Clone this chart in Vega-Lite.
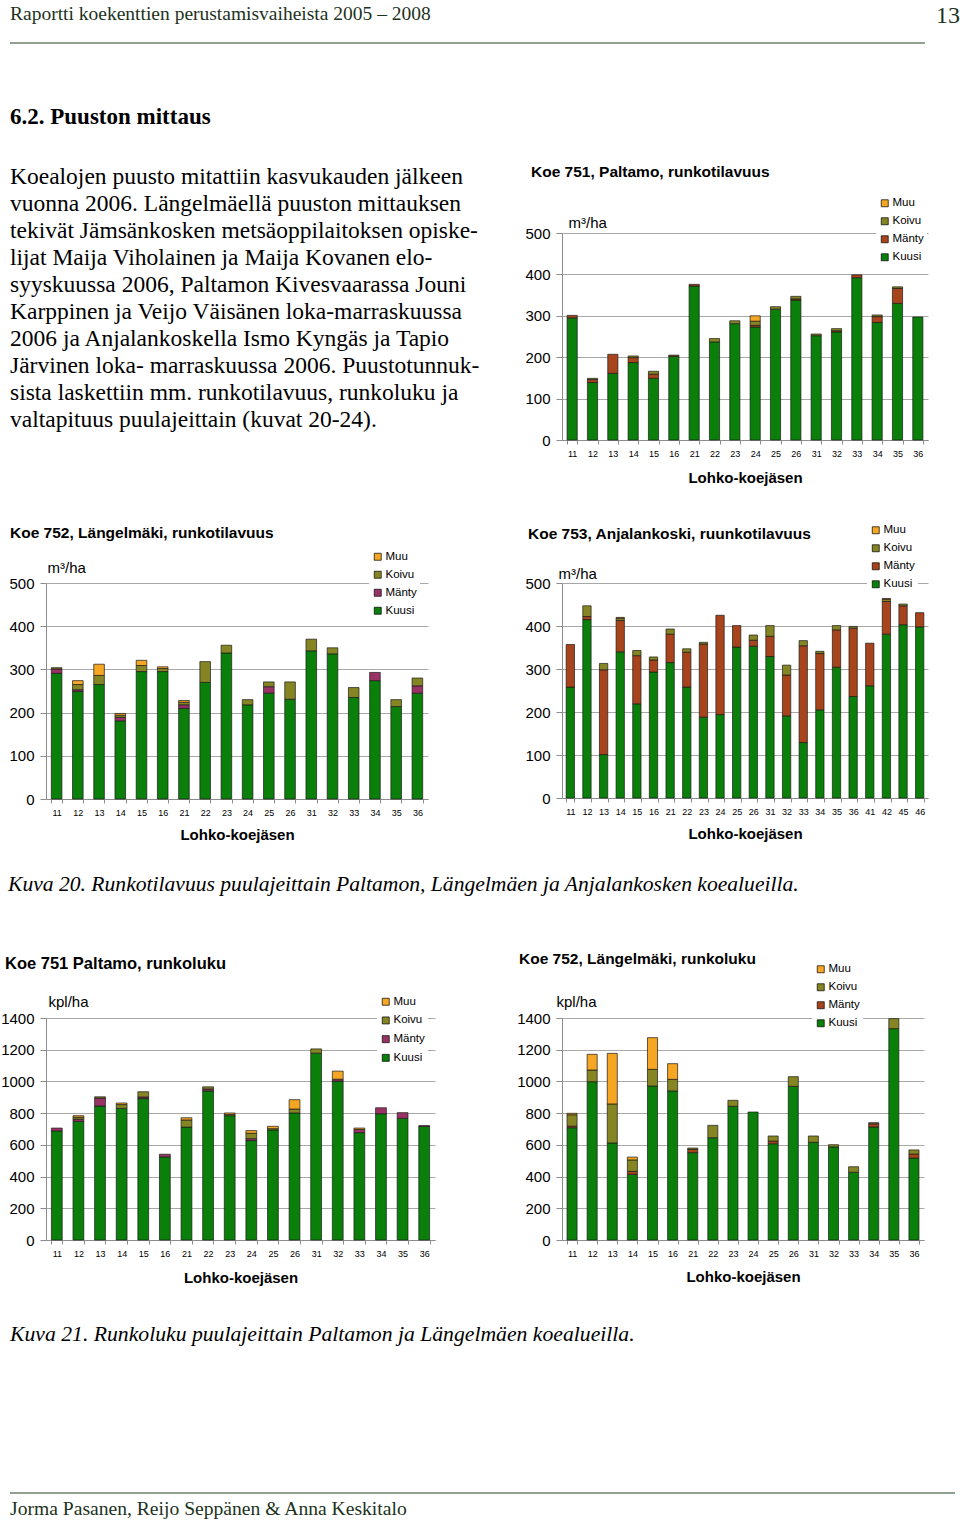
{
  "$schema": "https://vega.github.io/schema/vega-lite/v6.json",
  "padding": 0,
  "background": "white",
  "columns": 4,
  "align": "each",
  "bounds": "flush",
  "spacing": {"row": 0, "column": 0},
  "resolve": {"scale": {"color": "independent"}, "legend": {"color": "independent"}},
  "config": {
    "view": {"stroke": null},
    "font": "Liberation Sans",
    "axis": {"labelFont": "Liberation Sans", "titleFont": "Liberation Sans", "labelColor": "black", "titleColor": "black", "domainColor": "#8c8c8c", "tickColor": "#8c8c8c", "gridColor": "#a8a8a8"},
    "legend": {"labelFont": "Liberation Sans", "labelColor": "black", "labelOffset": 2},
    "title": {"font": "Liberation Sans", "color": "black"}
  },
  "datasets": {
    "lajit": [
      {"laji": "Kuusi", "jarjestys": 1},
      {"laji": "Mänty", "jarjestys": 2},
      {"laji": "Koivu", "jarjestys": 3},
      {"laji": "Muu", "jarjestys": 4}
    ],
    "k751_tilavuus": [
      {"lohko": "11", "Kuusi": 295, "Mänty": 6, "Koivu": 0, "Muu": 0},
      {"lohko": "12", "Kuusi": 139, "Mänty": 7, "Koivu": 3, "Muu": 0},
      {"lohko": "13", "Kuusi": 161, "Mänty": 46, "Koivu": 0, "Muu": 0},
      {"lohko": "14", "Kuusi": 187, "Mänty": 12, "Koivu": 4, "Muu": 0},
      {"lohko": "15", "Kuusi": 149, "Mänty": 10, "Koivu": 7, "Muu": 0},
      {"lohko": "16", "Kuusi": 202, "Mänty": 3, "Koivu": 0, "Muu": 0},
      {"lohko": "21", "Kuusi": 372, "Mänty": 4, "Koivu": 0, "Muu": 0},
      {"lohko": "22", "Kuusi": 237, "Mänty": 0, "Koivu": 8, "Muu": 0},
      {"lohko": "23", "Kuusi": 281, "Mänty": 0, "Koivu": 7, "Muu": 0},
      {"lohko": "24", "Kuusi": 273, "Mänty": 4, "Koivu": 10, "Muu": 13},
      {"lohko": "25", "Kuusi": 316, "Mänty": 0, "Koivu": 6, "Muu": 0},
      {"lohko": "26", "Kuusi": 338, "Mänty": 3, "Koivu": 6, "Muu": 0},
      {"lohko": "31", "Kuusi": 252, "Mänty": 0, "Koivu": 4, "Muu": 0},
      {"lohko": "32", "Kuusi": 261, "Mänty": 3, "Koivu": 5, "Muu": 0},
      {"lohko": "33", "Kuusi": 392, "Mänty": 7, "Koivu": 0, "Muu": 0},
      {"lohko": "34", "Kuusi": 284, "Mänty": 14, "Koivu": 4, "Muu": 0},
      {"lohko": "35", "Kuusi": 330, "Mänty": 36, "Koivu": 4, "Muu": 0},
      {"lohko": "36", "Kuusi": 297, "Mänty": 0, "Koivu": 0, "Muu": 0}
    ],
    "k752_tilavuus": [
      {"lohko": "11", "Kuusi": 291, "Mänty": 10, "Koivu": 3, "Muu": 0},
      {"lohko": "12", "Kuusi": 249, "Mänty": 4, "Koivu": 12, "Muu": 9},
      {"lohko": "13", "Kuusi": 265, "Mänty": 0, "Koivu": 21, "Muu": 26},
      {"lohko": "14", "Kuusi": 181, "Mänty": 8, "Koivu": 5, "Muu": 4},
      {"lohko": "15", "Kuusi": 295, "Mänty": 0, "Koivu": 14, "Muu": 12},
      {"lohko": "16", "Kuusi": 295, "Mänty": 0, "Koivu": 7, "Muu": 4},
      {"lohko": "21", "Kuusi": 210, "Mänty": 8, "Koivu": 6, "Muu": 4},
      {"lohko": "22", "Kuusi": 270, "Mänty": 0, "Koivu": 48, "Muu": 0},
      {"lohko": "23", "Kuusi": 338, "Mänty": 0, "Koivu": 18, "Muu": 0},
      {"lohko": "24", "Kuusi": 218, "Mänty": 0, "Koivu": 12, "Muu": 0},
      {"lohko": "25", "Kuusi": 245, "Mänty": 15, "Koivu": 11, "Muu": 0},
      {"lohko": "26", "Kuusi": 231, "Mänty": 0, "Koivu": 40, "Muu": 0},
      {"lohko": "31", "Kuusi": 343, "Mänty": 0, "Koivu": 27, "Muu": 0},
      {"lohko": "32", "Kuusi": 336, "Mänty": 0, "Koivu": 14, "Muu": 0},
      {"lohko": "33", "Kuusi": 235, "Mänty": 0, "Koivu": 23, "Muu": 0},
      {"lohko": "34", "Kuusi": 274, "Mänty": 19, "Koivu": 0, "Muu": 0},
      {"lohko": "35", "Kuusi": 214, "Mänty": 0, "Koivu": 16, "Muu": 0},
      {"lohko": "36", "Kuusi": 245, "Mänty": 17, "Koivu": 18, "Muu": 0}
    ],
    "k753_tilavuus": [
      {"lohko": "11", "Kuusi": 258, "Mänty": 99, "Koivu": 0, "Muu": 0},
      {"lohko": "12", "Kuusi": 415, "Mänty": 7, "Koivu": 25, "Muu": 0},
      {"lohko": "13", "Kuusi": 101, "Mänty": 197, "Koivu": 15, "Muu": 0},
      {"lohko": "14", "Kuusi": 340, "Mänty": 73, "Koivu": 5, "Muu": 2},
      {"lohko": "15", "Kuusi": 219, "Mänty": 112, "Koivu": 12, "Muu": 0},
      {"lohko": "16", "Kuusi": 293, "Mänty": 28, "Koivu": 7, "Muu": 0},
      {"lohko": "21", "Kuusi": 315, "Mänty": 66, "Koivu": 12, "Muu": 0},
      {"lohko": "22", "Kuusi": 258, "Mänty": 81, "Koivu": 8, "Muu": 0},
      {"lohko": "23", "Kuusi": 188, "Mänty": 170, "Koivu": 4, "Muu": 0},
      {"lohko": "24", "Kuusi": 194, "Mänty": 231, "Koivu": 0, "Muu": 0},
      {"lohko": "25", "Kuusi": 351, "Mänty": 50, "Koivu": 0, "Muu": 0},
      {"lohko": "26", "Kuusi": 353, "Mänty": 14, "Koivu": 12, "Muu": 0},
      {"lohko": "31", "Kuusi": 329, "Mänty": 47, "Koivu": 25, "Muu": 0},
      {"lohko": "32", "Kuusi": 191, "Mänty": 95, "Koivu": 23, "Muu": 0},
      {"lohko": "33", "Kuusi": 129, "Mänty": 225, "Koivu": 12, "Muu": 0},
      {"lohko": "34", "Kuusi": 205, "Mänty": 131, "Koivu": 5, "Muu": 0},
      {"lohko": "35", "Kuusi": 304, "Mänty": 87, "Koivu": 10, "Muu": 0},
      {"lohko": "36", "Kuusi": 236, "Mänty": 159, "Koivu": 4, "Muu": 0},
      {"lohko": "41", "Kuusi": 261, "Mänty": 99, "Koivu": 0, "Muu": 0},
      {"lohko": "42", "Kuusi": 381, "Mänty": 76, "Koivu": 5, "Muu": 2},
      {"lohko": "45", "Kuusi": 403, "Mänty": 44, "Koivu": 4, "Muu": 0},
      {"lohko": "46", "Kuusi": 398, "Mänty": 33, "Koivu": 0, "Muu": 0}
    ],
    "k751_runkoluku": [
      {"lohko": "11", "Kuusi": 688, "Mänty": 18, "Koivu": 0, "Muu": 0},
      {"lohko": "12", "Kuusi": 748, "Mänty": 14, "Koivu": 12, "Muu": 10},
      {"lohko": "13", "Kuusi": 845, "Mänty": 50, "Koivu": 8, "Muu": 0},
      {"lohko": "14", "Kuusi": 830, "Mänty": 0, "Koivu": 24, "Muu": 10},
      {"lohko": "15", "Kuusi": 892, "Mänty": 10, "Koivu": 33, "Muu": 0},
      {"lohko": "16", "Kuusi": 524, "Mänty": 17, "Koivu": 0, "Muu": 0},
      {"lohko": "21", "Kuusi": 712, "Mänty": 0, "Koivu": 45, "Muu": 14},
      {"lohko": "22", "Kuusi": 940, "Mänty": 12, "Koivu": 14, "Muu": 0},
      {"lohko": "23", "Kuusi": 784, "Mänty": 0, "Koivu": 8, "Muu": 9},
      {"lohko": "24", "Kuusi": 627, "Mänty": 12, "Koivu": 34, "Muu": 17},
      {"lohko": "25", "Kuusi": 694, "Mänty": 0, "Koivu": 8, "Muu": 15},
      {"lohko": "26", "Kuusi": 801, "Mänty": 0, "Koivu": 25, "Muu": 59},
      {"lohko": "31", "Kuusi": 1178, "Mänty": 0, "Koivu": 27, "Muu": 0},
      {"lohko": "32", "Kuusi": 1002, "Mänty": 12, "Koivu": 0, "Muu": 51},
      {"lohko": "33", "Kuusi": 677, "Mänty": 20, "Koivu": 0, "Muu": 9},
      {"lohko": "34", "Kuusi": 796, "Mänty": 38, "Koivu": 0, "Muu": 0},
      {"lohko": "35", "Kuusi": 767, "Mänty": 36, "Koivu": 0, "Muu": 0},
      {"lohko": "36", "Kuusi": 717, "Mänty": 4, "Koivu": 0, "Muu": 0}
    ],
    "k752_runkoluku": [
      {"lohko": "11", "Kuusi": 708, "Mänty": 10, "Koivu": 72, "Muu": 9},
      {"lohko": "12", "Kuusi": 998, "Mänty": 0, "Koivu": 74, "Muu": 99},
      {"lohko": "13", "Kuusi": 612, "Mänty": 0, "Koivu": 246, "Muu": 319},
      {"lohko": "14", "Kuusi": 414, "Mänty": 19, "Koivu": 72, "Muu": 18},
      {"lohko": "15", "Kuusi": 971, "Mänty": 0, "Koivu": 105, "Muu": 200},
      {"lohko": "16", "Kuusi": 940, "Mänty": 0, "Koivu": 73, "Muu": 99},
      {"lohko": "21", "Kuusi": 551, "Mänty": 20, "Koivu": 9, "Muu": 0},
      {"lohko": "22", "Kuusi": 645, "Mänty": 0, "Koivu": 78, "Muu": 0},
      {"lohko": "23", "Kuusi": 843, "Mänty": 0, "Koivu": 38, "Muu": 0},
      {"lohko": "24", "Kuusi": 807, "Mänty": 0, "Koivu": 0, "Muu": 0},
      {"lohko": "25", "Kuusi": 607, "Mänty": 17, "Koivu": 32, "Muu": 0},
      {"lohko": "26", "Kuusi": 969, "Mänty": 0, "Koivu": 61, "Muu": 0},
      {"lohko": "31", "Kuusi": 616, "Mänty": 0, "Koivu": 40, "Muu": 0},
      {"lohko": "32", "Kuusi": 587, "Mänty": 0, "Koivu": 14, "Muu": 0},
      {"lohko": "33", "Kuusi": 427, "Mänty": 0, "Koivu": 35, "Muu": 0},
      {"lohko": "34", "Kuusi": 713, "Mänty": 20, "Koivu": 7, "Muu": 0},
      {"lohko": "35", "Kuusi": 1333, "Mänty": 0, "Koivu": 63, "Muu": 0},
      {"lohko": "36", "Kuusi": 517, "Mänty": 25, "Koivu": 26, "Muu": 0}
    ]
  },
  "concat": [
    {
      "width": 44, "height": 233,
      "layer": [
        {
          "data": {"values": [{"teksti": "Raportti koekenttien perustamisvaiheista 2005 – 2008"}]},
          "mark": {"type": "text", "align": "left", "baseline": "middle", "font": "Liberation Serif", "fontSize": 19.5, "color": "#1c321c"},
          "encoding": {
            "x": {"datum": 8, "type": "quantitative", "scale": {"domain": [0, 44], "nice": false, "zero": false}, "axis": null},
            "y": {"datum": 14, "type": "quantitative", "scale": {"domain": [0, 233], "nice": false, "zero": false, "reverse": true}, "axis": null},
            "text": {"field": "teksti"}
          }
        },
        {
          "data": {"values": [{"teksti": "13"}]},
          "mark": {"type": "text", "align": "right", "baseline": "middle", "font": "Liberation Serif", "fontSize": 24, "color": "#1c321c"},
          "encoding": {
            "x": {"datum": 958, "type": "quantitative", "scale": {"domain": [0, 44], "nice": false, "zero": false}, "axis": null},
            "y": {"datum": 16, "type": "quantitative", "scale": {"domain": [0, 233], "nice": false, "zero": false, "reverse": true}, "axis": null},
            "text": {"field": "teksti"}
          }
        },
        {
          "data": {"values": [{}]},
          "mark": {"type": "rule", "color": "#244224", "strokeWidth": 1.2},
          "encoding": {
            "x": {"datum": 8, "type": "quantitative", "scale": {"domain": [0, 44], "nice": false, "zero": false}, "axis": null},
            "x2": {"datum": 923},
            "y": {"datum": 43, "type": "quantitative", "scale": {"domain": [0, 233], "nice": false, "zero": false, "reverse": true}, "axis": null}
          }
        },
        {
          "data": {"values": [{"teksti": "6.2. Puuston mittaus"}]},
          "mark": {"type": "text", "align": "left", "baseline": "middle", "font": "Liberation Serif", "fontSize": 23, "fontWeight": "bold", "color": "black"},
          "encoding": {
            "x": {"datum": 8, "type": "quantitative", "scale": {"domain": [0, 44], "nice": false, "zero": false}, "axis": null},
            "y": {"datum": 117, "type": "quantitative", "scale": {"domain": [0, 233], "nice": false, "zero": false, "reverse": true}, "axis": null},
            "text": {"field": "teksti"}
          }
        },
        {
          "data": {"values": [{"teksti": "Koealojen puusto mitattiin kasvukauden jälkeen\nvuonna 2006. Längelmäellä puuston mittauksen\ntekivät Jämsänkosken metsäoppilaitoksen opiske-\nlijat Maija Viholainen ja Maija Kovanen elo-\nsyyskuussa 2006, Paltamon Kivesvaarassa Jouni\nKarppinen ja Veijo Väisänen loka-marraskuussa\n2006 ja Anjalankoskella Ismo Kyngäs ja Tapio\nJärvinen loka- marraskuussa 2006. Puustotunnuk-\nsista laskettiin mm. runkotilavuus, runkoluku ja\nvaltapituus puulajeittain (kuvat 20-24)."}]},
          "mark": {"type": "text", "align": "left", "baseline": "alphabetic", "lineBreak": "\n", "lineHeight": 27, "font": "Liberation Serif", "fontSize": 23.5, "color": "black"},
          "encoding": {
            "x": {"datum": 8, "type": "quantitative", "scale": {"domain": [0, 44], "nice": false, "zero": false}, "axis": null},
            "y": {"datum": 184, "type": "quantitative", "scale": {"domain": [0, 233], "nice": false, "zero": false, "reverse": true}, "axis": null},
            "text": {"field": "teksti"}
          }
        }
      ]
    },
    {"width": 1, "height": 1, "data": {"values": []}, "mark": "point"},
    {"width": 127, "height": 1, "data": {"values": []}, "mark": "point"},
    {"width": 1, "height": 1, "data": {"values": []}, "mark": "point"},

    {"width": 1, "height": 1, "data": {"values": []}, "mark": "point"},
    {"width": 1, "height": 1, "data": {"values": []}, "mark": "point"},
    {"width": 1, "height": 1, "data": {"values": []}, "mark": "point"},
    {
      "width": 366, "height": 207,
      "data": {"name": "k751_tilavuus"},
      "transform": [
        {"fold": ["Kuusi", "Mänty", "Koivu", "Muu"], "as": ["laji", "m3"]},
        {"filter": "datum.m3 > 0"},
        {"lookup": "laji", "from": {"data": {"name": "lajit"}, "key": "laji", "fields": ["jarjestys"]}}
      ],
      "title": {"text": "Koe 751, Paltamo, runkotilavuus", "anchor": "start", "frame": "group", "dx": -31, "offset": 14, "fontSize": 15.5, "fontWeight": "bold"},
      "mark": {"type": "bar", "stroke": "#1a1a1a", "strokeWidth": 0.7},
      "encoding": {
        "x": {"field": "lohko", "type": "ordinal", "sort": null, "scale": {"paddingInner": 0.5, "paddingOuter": 0.25},
          "axis": {"title": "Lohko-koejäsen", "labelAngle": 0, "labelFontSize": 9, "labelPadding": 5, "tickBand": "extent", "tickSize": 4, "titleFontSize": 15, "titleFontWeight": "bold", "titlePadding": 12}},
        "y": {"field": "m3", "type": "quantitative", "stack": "zero", "scale": {"domain": [0, 500]},
          "axis": {"values": [0, 100, 200, 300, 400, 500], "format": "d", "title": "m³/ha", "titleAngle": 0, "titleAlign": "left", "titleBaseline": "middle", "titleX": 6, "titleY": -11, "titleFontSize": 15, "titleFontWeight": "normal", "labelFontSize": 15, "labelPadding": 6, "tickSize": 6, "grid": true}},
        "color": {"field": "laji", "type": "nominal",
          "scale": {"domain": ["Muu", "Koivu", "Mänty", "Kuusi"], "range": ["#f5a623", "#858523", "#a8441c", "#0a7f0a"]},
          "legend": {"orient": "none", "legendX": 314, "legendY": -38.5, "title": null, "symbolType": "square", "symbolSize": 49, "symbolStrokeColor": "black", "symbolStrokeWidth": 0.7, "labelFontSize": 11.5, "rowPadding": 5, "fillColor": "white", "padding": 3}},
        "order": {"field": "jarjestys", "type": "quantitative", "sort": "ascending"}
      }
    },

    {"width": 1, "height": 143, "data": {"values": []}, "mark": "point"},
    {"width": 1, "height": 1, "data": {"values": []}, "mark": "point"},
    {"width": 1, "height": 1, "data": {"values": []}, "mark": "point"},
    {"width": 1, "height": 1, "data": {"values": []}, "mark": "point"},

    {"width": 1, "height": 1, "data": {"values": []}, "mark": "point"},
    {
      "width": 382, "height": 216,
      "data": {"name": "k752_tilavuus"},
      "transform": [
        {"fold": ["Kuusi", "Mänty", "Koivu", "Muu"], "as": ["laji", "m3"]},
        {"filter": "datum.m3 > 0"},
        {"lookup": "laji", "from": {"data": {"name": "lajit"}, "key": "laji", "fields": ["jarjestys"]}}
      ],
      "title": {"text": "Koe 752, Längelmäki, runkotilavuus", "anchor": "start", "frame": "group", "dx": -36, "offset": 7, "fontSize": 15.5, "fontWeight": "bold"},
      "mark": {"type": "bar", "stroke": "#1a1a1a", "strokeWidth": 0.7},
      "encoding": {
        "x": {"field": "lohko", "type": "ordinal", "sort": null, "scale": {"paddingInner": 0.5, "paddingOuter": 0.25},
          "axis": {"title": "Lohko-koejäsen", "labelAngle": 0, "labelFontSize": 9, "labelPadding": 5, "tickBand": "extent", "tickSize": 4, "titleFontSize": 15, "titleFontWeight": "bold", "titlePadding": 10}},
        "y": {"field": "m3", "type": "quantitative", "stack": "zero", "scale": {"domain": [0, 500]},
          "axis": {"values": [0, 100, 200, 300, 400, 500], "format": "d", "title": "m³/ha", "titleAngle": 0, "titleAlign": "left", "titleBaseline": "middle", "titleX": 1, "titleY": -16, "titleFontSize": 15, "titleFontWeight": "normal", "labelFontSize": 15, "labelPadding": 6, "tickSize": 6, "grid": true}},
        "color": {"field": "laji", "type": "nominal",
          "scale": {"domain": ["Muu", "Koivu", "Mänty", "Kuusi"], "range": ["#f5a623", "#858523", "#993366", "#0a7f0a"]},
          "legend": {"orient": "none", "legendX": 323, "legendY": -35, "title": null, "symbolType": "square", "symbolSize": 49, "symbolStrokeColor": "black", "symbolStrokeWidth": 0.7, "labelFontSize": 11.5, "rowPadding": 5, "fillColor": "white", "padding": 3}},
        "order": {"field": "jarjestys", "type": "quantitative", "sort": "ascending"}
      }
    },
    {"width": 1, "height": 1, "data": {"values": []}, "mark": "point"},
    {
      "width": 366, "height": 215,
      "data": {"name": "k753_tilavuus"},
      "transform": [
        {"fold": ["Kuusi", "Mänty", "Koivu", "Muu"], "as": ["laji", "m3"]},
        {"filter": "datum.m3 > 0"},
        {"lookup": "laji", "from": {"data": {"name": "lajit"}, "key": "laji", "fields": ["jarjestys"]}}
      ],
      "title": {"text": "Koe 753, Anjalankoski, ruunkotilavuus", "anchor": "start", "frame": "group", "dx": -34, "offset": -21, "fontSize": 15.5, "fontWeight": "bold"},
      "mark": {"type": "bar", "stroke": "#1a1a1a", "strokeWidth": 0.7},
      "encoding": {
        "x": {"field": "lohko", "type": "ordinal", "sort": null, "scale": {"paddingInner": 0.5, "paddingOuter": 0.25},
          "axis": {"title": "Lohko-koejäsen", "labelAngle": 0, "labelFontSize": 9, "labelPadding": 5, "tickBand": "extent", "tickSize": 4, "titleFontSize": 15, "titleFontWeight": "bold", "titlePadding": 10}},
        "y": {"field": "m3", "type": "quantitative", "stack": "zero", "scale": {"domain": [0, 500]},
          "axis": {"values": [0, 100, 200, 300, 400, 500], "format": "d", "title": "m³/ha", "titleAngle": 0, "titleAlign": "left", "titleBaseline": "middle", "titleX": -4, "titleY": -10, "titleFontSize": 15, "titleFontWeight": "normal", "labelFontSize": 15, "labelPadding": 6, "tickSize": 6, "grid": true}},
        "color": {"field": "laji", "type": "nominal",
          "scale": {"domain": ["Muu", "Koivu", "Mänty", "Kuusi"], "range": ["#f5a623", "#858523", "#a8441c", "#0a7f0a"]},
          "legend": {"orient": "none", "legendX": 305, "legendY": -61.5, "title": null, "symbolType": "square", "symbolSize": 49, "symbolStrokeColor": "black", "symbolStrokeWidth": 0.7, "labelFontSize": 11.5, "rowPadding": 5, "fillColor": "white", "padding": 3}},
        "order": {"field": "jarjestys", "type": "quantitative", "sort": "ascending"}
      }
    },

    {
      "width": 44, "height": 219,
      "data": {"values": [{"teksti": "Kuva 20. Runkotilavuus puulajeittain Paltamon, Längelmäen ja Anjalankosken koealueilla."}]},
      "mark": {"type": "text", "align": "left", "baseline": "middle", "font": "Liberation Serif", "fontSize": 21.6, "fontStyle": "italic", "color": "black"},
      "encoding": {
        "x": {"datum": 6, "type": "quantitative", "scale": {"domain": [0, 44], "nice": false, "zero": false}, "axis": null},
        "y": {"datum": 86, "type": "quantitative", "scale": {"domain": [0, 219], "nice": false, "zero": false, "reverse": true}, "axis": null},
        "text": {"field": "teksti"}
      }
    },
    {"width": 1, "height": 1, "data": {"values": []}, "mark": "point"},
    {"width": 1, "height": 1, "data": {"values": []}, "mark": "point"},
    {"width": 1, "height": 1, "data": {"values": []}, "mark": "point"},

    {"width": 1, "height": 1, "data": {"values": []}, "mark": "point"},
    {
      "width": 389, "height": 222,
      "data": {"name": "k751_runkoluku"},
      "transform": [
        {"fold": ["Kuusi", "Mänty", "Koivu", "Muu"], "as": ["laji", "kpl"]},
        {"filter": "datum.kpl > 0"},
        {"lookup": "laji", "from": {"data": {"name": "lajit"}, "key": "laji", "fields": ["jarjestys"]}}
      ],
      "title": {"text": "Koe 751 Paltamo, runkoluku", "anchor": "start", "frame": "group", "dx": -41, "offset": 21, "fontSize": 16.5, "fontWeight": "bold"},
      "mark": {"type": "bar", "stroke": "#1a1a1a", "strokeWidth": 0.7},
      "encoding": {
        "x": {"field": "lohko", "type": "ordinal", "sort": null, "scale": {"paddingInner": 0.5, "paddingOuter": 0.25},
          "axis": {"title": "Lohko-koejäsen", "labelAngle": 0, "labelFontSize": 9, "labelPadding": 5, "tickBand": "extent", "tickSize": 4, "titleFontSize": 15, "titleFontWeight": "bold", "titlePadding": 12}},
        "y": {"field": "kpl", "type": "quantitative", "stack": "zero", "scale": {"domain": [0, 1400]},
          "axis": {"values": [0, 200, 400, 600, 800, 1000, 1200, 1400], "format": "d", "title": "kpl/ha", "titleAngle": 0, "titleAlign": "left", "titleBaseline": "middle", "titleX": 2, "titleY": -17, "titleFontSize": 15, "titleFontWeight": "normal", "labelFontSize": 15, "labelPadding": 6, "tickSize": 6, "grid": true}},
        "color": {"field": "laji", "type": "nominal",
          "scale": {"domain": ["Muu", "Koivu", "Mänty", "Kuusi"], "range": ["#f5a623", "#858523", "#993366", "#0a7f0a"]},
          "legend": {"orient": "none", "legendX": 331, "legendY": -25, "title": null, "symbolType": "square", "symbolSize": 49, "symbolStrokeColor": "black", "symbolStrokeWidth": 0.7, "labelFontSize": 11.5, "rowPadding": 5.7, "fillColor": "white", "padding": 3}},
        "order": {"field": "jarjestys", "type": "quantitative", "sort": "ascending"}
      }
    },
    {"width": 1, "height": 1, "data": {"values": []}, "mark": "point"},
    {
      "width": 362, "height": 222,
      "data": {"name": "k752_runkoluku"},
      "transform": [
        {"fold": ["Kuusi", "Mänty", "Koivu", "Muu"], "as": ["laji", "kpl"]},
        {"filter": "datum.kpl > 0"},
        {"lookup": "laji", "from": {"data": {"name": "lajit"}, "key": "laji", "fields": ["jarjestys"]}}
      ],
      "title": {"text": "Koe 752, Längelmäki, runkoluku", "anchor": "start", "frame": "group", "dx": -43, "offset": -7, "fontSize": 15.5, "fontWeight": "bold"},
      "mark": {"type": "bar", "stroke": "#1a1a1a", "strokeWidth": 0.7},
      "encoding": {
        "x": {"field": "lohko", "type": "ordinal", "sort": null, "scale": {"paddingInner": 0.5, "paddingOuter": 0.25},
          "axis": {"title": "Lohko-koejäsen", "labelAngle": 0, "labelFontSize": 9, "labelPadding": 5, "tickBand": "extent", "tickSize": 4, "titleFontSize": 15, "titleFontWeight": "bold", "titlePadding": 11}},
        "y": {"field": "kpl", "type": "quantitative", "stack": "zero", "scale": {"domain": [0, 1400]},
          "axis": {"values": [0, 200, 400, 600, 800, 1000, 1200, 1400], "format": "d", "title": "kpl/ha", "titleAngle": 0, "titleAlign": "left", "titleBaseline": "middle", "titleX": -6, "titleY": -17, "titleFontSize": 15, "titleFontWeight": "normal", "labelFontSize": 15, "labelPadding": 6, "tickSize": 6, "grid": true}},
        "color": {"field": "laji", "type": "nominal",
          "scale": {"domain": ["Muu", "Koivu", "Mänty", "Kuusi"], "range": ["#f5a623", "#858523", "#a8441c", "#0a7f0a"]},
          "legend": {"orient": "none", "legendX": 250, "legendY": -57.5, "title": null, "symbolType": "square", "symbolSize": 49, "symbolStrokeColor": "black", "symbolStrokeWidth": 0.7, "labelFontSize": 11.5, "rowPadding": 5, "fillColor": "white", "padding": 3}},
        "order": {"field": "jarjestys", "type": "quantitative", "sort": "ascending"}
      }
    },

    {
      "width": 44, "height": 279,
      "layer": [
        {
          "data": {"values": [{"teksti": "Kuva 21. Runkoluku puulajeittain Paltamon  ja Längelmäen koealueilla."}]},
          "mark": {"type": "text", "align": "left", "baseline": "middle", "font": "Liberation Serif", "fontSize": 21.7, "fontStyle": "italic", "color": "black"},
          "encoding": {
            "x": {"datum": 8, "type": "quantitative", "scale": {"domain": [0, 44], "nice": false, "zero": false}, "axis": null},
            "y": {"datum": 94, "type": "quantitative", "scale": {"domain": [0, 279], "nice": false, "zero": false, "reverse": true}, "axis": null},
            "text": {"field": "teksti"}
          }
        },
        {
          "data": {"values": [{}]},
          "mark": {"type": "rule", "color": "#244224", "strokeWidth": 1.2},
          "encoding": {
            "x": {"datum": 8, "type": "quantitative", "scale": {"domain": [0, 44], "nice": false, "zero": false}, "axis": null},
            "x2": {"datum": 953},
            "y": {"datum": 253, "type": "quantitative", "scale": {"domain": [0, 279], "nice": false, "zero": false, "reverse": true}, "axis": null}
          }
        },
        {
          "data": {"values": [{"teksti": "Jorma Pasanen, Reijo Seppänen & Anna Keskitalo"}]},
          "mark": {"type": "text", "align": "left", "baseline": "middle", "font": "Liberation Serif", "fontSize": 19.6, "color": "#1c321c"},
          "encoding": {
            "x": {"datum": 8, "type": "quantitative", "scale": {"domain": [0, 44], "nice": false, "zero": false}, "axis": null},
            "y": {"datum": 269, "type": "quantitative", "scale": {"domain": [0, 279], "nice": false, "zero": false, "reverse": true}, "axis": null},
            "text": {"field": "teksti"}
          }
        }
      ]
    },
    {"width": 1, "height": 1, "data": {"values": []}, "mark": "point"},
    {"width": 1, "height": 1, "data": {"values": []}, "mark": "point"},
    {"width": 1, "height": 1, "data": {"values": []}, "mark": "point"}
  ]
}
